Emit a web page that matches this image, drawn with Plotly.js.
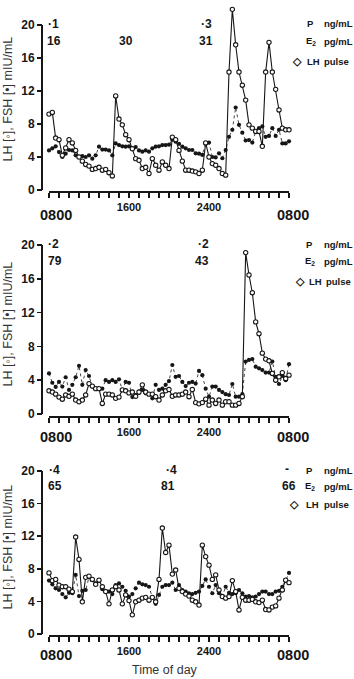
<!DOCTYPE html>
<html><head><meta charset="utf-8">
<script src="https://cdn.plot.ly/plotly-3.0.1.min.js"></script>
<style>html,body{margin:0;padding:0;background:#fff;} #chart{width:354px;height:679px;}</style>
</head><body><div id="chart"></div>
<script>
// Sampling: every 20 minutes from 0800 to 0800 next day (hours since 0800)
const sampleMinutes = 20;
const nSamples = 73;
const hours = Array.from({length: nSamples}, (_, i) => i * sampleMinutes / 60);

const timeTicks = [0, 8, 16, 24];
const timeTickLabels = ["0800", "1600", "2400", "0800"];
const yTicks = [0, 4, 8, 12, 16, 20];

// Panel 1
const lh1 = [9.2,9.4,6.3,6.1,4.2,5.1,6.1,5.7,4.8,4.0, 3.5,3.1,2.9,2.5,2.6,2.75,2.4,2.5,2.1,1.7,
  11.4,8.6,7.9,6.7,6.1,5.0,3.8,3.6,2.6,2.75, 2.0,3.8,3.0,2.4,3.4,3.0,2.6,6.4,6.1,4.8,
  3.5,2.4,2.4,2.3,2.2,2.0,2.4,5.7,4.0,3.2, 3.0,2.6,2.0,1.8,14.3,21.9,17.6,14.3,12.7,10.9,
  7.9,7.5,7.1,7.1,5.3,14.3,17.9,14.3,12.2,9.7, 7.5,7.3,7.3];
const fsh1 = [4.8,5.05,5.3,4.6,4.0,4.4,4.85,4.8,4.2,4.0, 4.1,4.0,4.2,3.8,4.2,5.25,4.9,4.9,4.8,4.2,
  5.65,5.45,5.3,5.25,5.3,5.05,5.2,4.8,4.65,4.8, 4.65,5.05,5.25,5.3,5.45,5.45,5.5,6.1,5.85,5.6,
  5.25,5.05,4.85,4.85,4.45,4.4,4.25,5.65,5.75,4.0, 3.95,4.45,3.85,4.85,6.45,7.3,10.0,7.9,6.95,6.0,
  6.05,5.75,7.1,7.5,7.7,6.45,6.55,7.5,6.55,7.3, 5.65,5.65,5.9];
const p1 = ["·1", "·3"];
const e1 = ["16", "30", "31"];

// Panel 2
const lh2 = [2.75,2.6,2.35,2.0,1.75,2.25,2.1,2.35,1.65,1.45, 1.65,2.25,3.6,3.3,3.0,3.0,1.25,2.35,2.35,2.25,
  1.85,2.0,2.85,2.75,2.5,2.6,2.1,2.6,3.45,2.6, 2.35,2.35,2.05,1.65,2.25,2.75,2.9,2.1,2.25,2.25,
  2.35,2.6,2.05,2.9,1.35,1.2,1.35,1.75,1.05,1.65, 1.25,1.65,1.05,1.45,1.45,1.05,1.05,1.25,2.05,19.1,
  16.45,14.35,10.9,9.5,7.2,6.5,6.3,4.8,4.0,4.4, 4.9,4.2,4.6];
const fsh2 = [4.8,3.7,3.2,3.8,3.25,4.35,2.85,3.45,4.35,5.7, 3.45,5.2,4.5,3.25,3.0,3.0,3.0,4.0,3.8,4.0,
  3.8,4.1,2.85,3.8,3.7,2.0,2.25,2.5,2.85,2.45, 2.35,1.85,3.45,2.85,3.0,3.45,3.9,5.8,4.4,4.5,
  3.8,3.3,3.7,3.8,3.6,5.1,4.6,3.0,2.05,3.25, 3.25,2.85,2.6,2.35,2.25,3.55,2.05,2.05,2.35,6.2,
  6.4,6.5,5.6,5.4,5.2,4.9,4.9,6.2,4.4,3.55, 4.5,4.0,5.9];
const p2 = ["·2", "·2"];
const e2 = ["79", "43"];

// Panel 3
const lh3 = [7.5,6.55,6.7,6.0,5.8,5.8,5.5,5.2,11.9,9.15, 3.95,6.95,7.1,6.7,6.1,6.6,5.8,5.2,3.7,5.4,
  5.8,5.4,3.7,4.8,4.1,2.35,3.95,4.15,4.4,4.5, 4.15,4.5,3.95,6.7,13.0,10.0,10.9,7.35,7.85,5.6,
  5.2,4.9,4.65,4.15,3.95,3.55,10.9,9.5,8.45,6.7, 7.25,5.4,4.6,4.4,4.6,6.55,5.2,2.95,4.5,4.15,
  4.15,4.25,3.95,3.85,4.15,3.0,2.95,3.3,3.45,4.4, 5.4,6.6,6.3];
const fsh3 = [6.55,6.1,5.6,5.4,4.9,4.5,5.05,5.0,7.25,4.65, 5.3,5.4,6.95,6.6,6.2,6.55,5.5,5.3,5.2,4.9,
  6.0,6.2,5.8,5.3,4.6,4.9,5.6,6.3,6.1,6.0, 5.8,4.5,3.7,4.8,5.8,6.0,6.0,6.3,5.4,6.0,
  5.4,5.2,5.0,4.9,5.05,5.2,5.9,6.7,5.8,5.0, 6.0,5.0,4.6,5.8,5.05,4.9,5.0,5.4,5.0,4.6,
  4.65,4.5,4.6,4.9,5.2,5.2,4.9,4.9,5.2,5.3, 5.8,6.6,7.5];
const p3 = ["·4", "·4", "-"];
const e3 = ["65", "81", "66"];

const yTitle = "LH [◦], FSH [•] mIU/mL";
const xTitle = "Time of day";
const legendText = ["P", "ng/mL", "E<sub>2</sub>", "pg/mL", "◇", "LH", "pulse"];

// ---------- layout geometry (pixels) ----------
const W = 354, H = 679;
const px = v => v / W;
const py = v => 1 - v / H;
const FONT = "Liberation Sans, Arial, Helvetica, sans-serif";
const INK = "#161616";

const panels = [
  {lh: lh1, fsh: fsh1, y0: 190, y20: 25, xline: 192, ymax: 22.8, lab0800: 215},
  {lh: lh2, fsh: fsh2, y0: 414, y20: 245, xline: 417, ymax: 20, lab0800: 437},
  {lh: lh3, fsh: fsh3, y0: 634, y20: 471, xline: 636, ymax: 20, lab0800: 655}
];

const traces = [];
const layout = {
  width: W, height: H,
  margin: {l: 0, r: 0, t: 0, b: 0},
  paper_bgcolor: "#fff", plot_bgcolor: "rgba(0,0,0,0)",
  showlegend: false,
  font: {family: FONT, color: INK},
  annotations: [], shapes: []
};

const hourTicks = Array.from({length: 25}, (_, h) => h);

panels.forEach((p, k) => {
  const n = k + 1;
  const xa = "x" + n, ya = "y" + n;
  const sfx = n === 1 ? "" : String(n);
  const unit = (p.y0 - p.y20) / 20;
  const topPx = p.y0 - p.ymax * unit;
  traces.push({
    x: hours, y: p.fsh, xaxis: xa, yaxis: ya, type: "scatter", mode: "lines+markers",
    line: {color: "#333", width: 0.9, dash: "dot"},
    marker: {symbol: "circle", size: 4.2, color: INK},
    cliponaxis: false, hoverinfo: "skip"
  });
  traces.push({
    x: hours, y: p.lh, xaxis: xa, yaxis: ya, type: "scatter", mode: "lines+markers",
    line: {color: INK, width: 1.1},
    marker: {symbol: "circle", size: 4.3, color: "#fff", line: {color: INK, width: 1.1}},
    cliponaxis: false, hoverinfo: "skip"
  });
  layout["xaxis" + sfx] = {
    domain: [px(49), px(289)], anchor: "free", position: py(p.xline),
    range: [0, 24], showgrid: false, zeroline: false,
    showline: true, linewidth: 2, linecolor: INK,
    ticks: "outside", ticklen: 5, tickwidth: 1.2, tickcolor: INK,
    tickvals: [timeTicks[1], timeTicks[2]],
    ticktext: [timeTickLabels[1], timeTickLabels[2]],
    tickangle: 0,
    minor: {tickvals: hourTicks, ticks: "outside", ticklen: 5, tickwidth: 1.2, tickcolor: INK, showgrid: false},
    tickfont: {family: FONT, size: 11, color: INK, weight: "bold"},
    fixedrange: true
  };
  layout["yaxis" + sfx] = {
    domain: [py(p.y0), py(topPx)], anchor: "free", position: px(42),
    range: [0, p.ymax], showgrid: false, zeroline: false, showline: false,
    ticks: "outside", ticklen: 5, tickwidth: 1.5, tickcolor: INK,
    tickvals: yTicks,
    tickfont: {family: FONT, size: 12, color: INK, weight: "bold"},
    fixedrange: true
  };
  layout.shapes.push({type: "line", xref: "paper", yref: ya, x0: px(42), x1: px(42), y0: 0, y1: 20,
    line: {color: INK, width: 2}});
  // 0800 labels at both ends (larger type)
  layout.annotations.push(
    {text: timeTickLabels[0], xref: "paper", yref: "paper", x: px(55.5), y: py(p.lab0800), showarrow: false,
     xanchor: "center", yanchor: "middle", font: {family: FONT, size: 14.5, color: INK, weight: "bold"}},
    {text: timeTickLabels[3], xref: "paper", yref: "paper", x: px(292.5), y: py(p.lab0800), showarrow: false,
     xanchor: "center", yanchor: "middle", font: {family: FONT, size: 14.5, color: INK, weight: "bold"}}
  );
});

function txt(t, x, y, size, opts) {
  return Object.assign({text: t, xref: "paper", yref: "paper", x: px(x), y: py(y), showarrow: false,
    xanchor: "center", yanchor: "middle", font: {family: FONT, size: size, color: INK, weight: "bold"}}, opts || {});
}

// y titles
[99, 324, 547].forEach(c => {
  layout.annotations.push(txt(yTitle, 7.5, c, 12.5, {textangle: -90, font: {family: FONT, size: 12.5, color: "#333"}}));
});
layout.annotations.push(txt(xTitle, 165, 670, 12.5, {font: {family: FONT, size: 12.5, color: "#333"}}));

// Hormone values, panel 1
layout.annotations.push(txt(p1[0], 53, 24, 12), txt(e1[0], 54, 41, 12), txt(e1[1], 126, 41, 12),
  txt(p1[1], 206.5, 24, 12), txt(e1[2], 205.5, 41, 12));
// panel 2
layout.annotations.push(txt(p2[0], 53, 244, 12), txt(e2[0], 54.5, 261, 12),
  txt(p2[1], 203, 244, 12), txt(e2[1], 201.5, 261, 12));
// panel 3
layout.annotations.push(txt(p3[0], 54, 470, 12), txt(e3[0], 54.5, 486, 12),
  txt(p3[1], 171, 470, 12), txt(e3[1], 168, 486, 12),
  txt(p3[2], 287, 469, 12), txt(e3[2], 289, 486, 12));

// legends
const LS = 9.5;
function legend(yP, yE, yL, xP, xUnit, xDia, xLH, xPulse) {
  layout.annotations.push(
    txt(legendText[0], xP, yP, LS),
    txt(legendText[1], xUnit, yP, LS, {xanchor: "left"}),
    txt(legendText[2], xP + 1, yE, LS),
    txt(legendText[3], xUnit, yE, LS, {xanchor: "left"}),
    txt(legendText[4], xDia, yL, 10.5),
    txt(legendText[5], xLH, yL, LS, {xanchor: "left"}),
    txt(legendText[6], xPulse, yL, LS, {xanchor: "left"})
  );
}
legend(24, 41, 61, 310, 322, 297, 305, 322);
legend(244, 261, 281, 309, 322, 299.5, 307, 324);
legend(470, 486, 504, 309, 322, 293.5, 304, 322);

Plotly.newPlot("chart", traces, layout, {staticPlot: true, displayModeBar: false});
</script>
</body></html>
